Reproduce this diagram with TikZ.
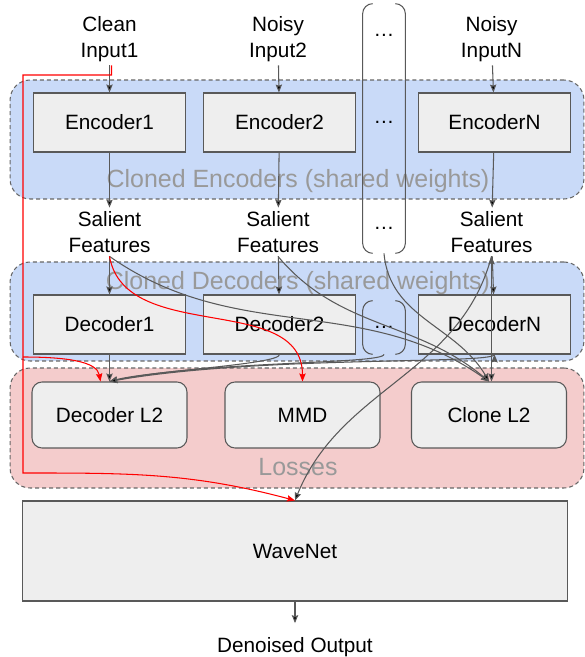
\documentclass[tikz,border=0pt]{standalone}
\usepackage{fontspec}
\setmainfont{Liberation Sans}
\usetikzlibrary{arrows.meta, positioning}

\definecolor{encblue}{HTML}{C9DAF8}
\definecolor{losspink}{HTML}{F4CCCC}
\definecolor{boxgray}{HTML}{EEEEEE}
\definecolor{linegray}{HTML}{595959}
\definecolor{dashgray}{HTML}{666666}
\definecolor{labelgray}{HTML}{999999}

\begin{document}
\begin{tikzpicture}[x=0.02cm, y=0.02cm,
    every node/.style={font=\fontsize{11.8}{14.7}\selectfont, inner sep=2pt},
    txt/.style={align=center},
    box/.style={draw=linegray, line width=0.6pt, fill=boxgray, minimum width=3.04cm, minimum height=1.18cm},
    loss/.style={box, rounded corners=0.2cm, minimum width=3.1cm, minimum height=1.32cm},
    grp/.style={draw=dashgray, dash pattern=on 2.3pt off 1.7pt, line width=0.6pt, rounded corners=0.4cm, minimum width=11.48cm},
    grplabel/.style={text=labelgray, font=\fontsize{14.2}{17}\selectfont, anchor=base},
    brk/.style={draw=linegray, line width=0.6pt, rounded corners=0.2cm},
    >={Stealth[length=4.5pt, width=3.6pt, inset=0.6pt]},
    link/.style={->, draw=linegray, line width=0.6pt},
    redlink/.style={->, draw=red, line width=0.6pt}]
    \useasboundingbox (0,0) rectangle (585,657);

    \node[grp, fill=encblue, minimum height=2.38cm] (encgrp) at (297,517.5) {};
    \node[grp, fill=encblue, minimum height=1.98cm] (decgrp) at (297,345.5) {};
    \node[grp, fill=losspink, minimum height=2.4cm] (lossgrp) at (297,229) {};
    \node[grplabel] (enclabel) at (298,469) {Cloned Encoders (shared weights)};
    \node[grplabel] (declabel) at (298,367) {Cloned Decoders (shared weights)};
    \node[grplabel] (losslabel) at (298,181) {Losses};

    \node[txt] (in1) at (109.5,618) {Clean\\Input1};
    \node[txt] (in2) at (278,618) {Noisy\\Input2};
    \node[txt] (inN) at (491.5,618) {Noisy\\InputN};

    \node[box] (enc1) at (109.5,534.5) {Encoder1};
    \node[box, right=0.34cm of enc1] (enc2) {Encoder2};
    \node[box, right=1.24cm of enc2] (encN) {EncoderN};

    \node[txt] (sal1) at (109.5,425) {Salient\\Features};
    \node[txt] (sal2) at (278,425) {Salient\\Features};
    \node[txt] (salN) at (491.5,425) {Salient\\Features};

    \node[box] (dec1) at (109.5,332.5) {Decoder1};
    \node[box, right=0.34cm of dec1] (dec2) {Decoder2};
    \node[box, right=1.24cm of dec2] (decN) {DecoderN};

    \node[loss] (dl2) at (109.5,242) {Decoder L2};
    \node[loss] (mmd) at (302.5,242) {MMD};
    \node[loss] (cl2) at (489,242) {Clone L2};

    \node[box, minimum width=10.92cm, minimum height=2cm] (wave) at (295,106) {WaveNet};
    \node[anchor=base] (denoised) at (295,5) {Denoised Output};

    \node[minimum width=0.84cm, minimum height=4.98cm] (dotsE) at (384,528.5) {};
    \node (dotsa) at (384,622) {…};
    \node (dotsb) at (384,535) {…};
    \node (dotsc) at (384,429) {…};
    \node[minimum width=0.84cm, minimum height=1.06cm] (dotsD) at (384,329.5) {…};
    \foreach \b in {dotsE, dotsD} {
      \draw[brk] ([xshift=0.2cm]\b.north west) -- (\b.north west) -- (\b.south west) -- ([xshift=0.2cm]\b.south west);
      \draw[brk] ([xshift=-0.2cm]\b.north east) -- (\b.north east) -- (\b.south east) -- ([xshift=-0.2cm]\b.south east);
    }

    \coordinate (rtop) at (23,582);
    \coordinate (rmid) at (23,300);
    \coordinate (rbot) at (23,184);

    \path[link] (in1) edge (enc1)
                (in2) edge (enc2)
                (inN) edge (encN)
                (enc1) edge (sal1)
                (enc2) edge (sal2)
                (encN) edge (salN)
                (sal1) edge (dec1)
                (sal2) edge (dec2)
                (salN) edge (decN)
                (salN.south) edge (salN.south |- cl2.north)
                (dec1) edge (dl2)
                (wave) edge[shorten >=0.2cm] (denoised);
    \path[link] (sal1.south) edge[out=-35, in=145] (cl2.north)
                (sal2.south) edge[out=-50, in=140] (cl2.north)
                (dotsE.south) edge[out=-85, in=120] (cl2.north)
                (salN.south) edge[out=-105, in=68] (wave.north)
                (dec2.south) edge[out=-90, in=15, out distance=0.2cm, in distance=0.8cm] (dl2.north)
                (dotsD.south) edge[out=-90, in=12, out distance=0.2cm, in distance=2cm] (dl2.north)
                (decN.south) edge[out=-95, in=10, out distance=0.2cm, in distance=3cm] (dl2.north);

    \draw[redlink] ([xshift=0.04cm]in1.south) |- (rtop) -- (rbot) to[out=0, in=165] (wave.north);
    \draw[redlink] (rmid) to[out=0, in=100, out distance=0.9cm, in distance=0.4cm] ([xshift=-0.18cm]dl2.north);
    \draw[redlink] (sal1.south) to[out=-80, in=90] (mmd.north);
\end{tikzpicture}
\end{document}
